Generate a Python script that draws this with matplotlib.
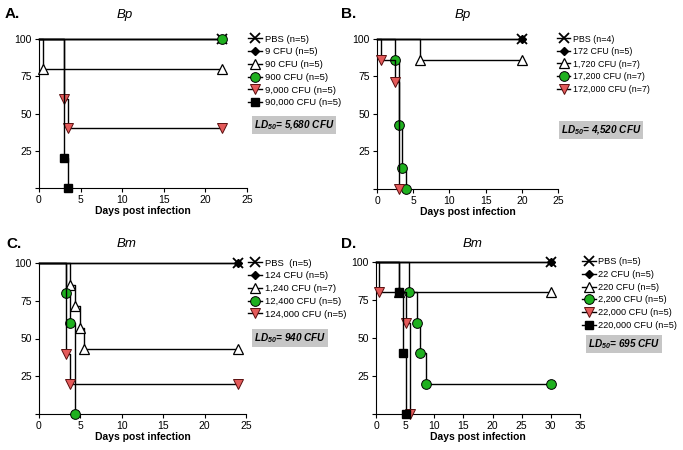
import numpy as np
import matplotlib
matplotlib.use('Agg')
import matplotlib.pyplot as plt
from matplotlib.lines import Line2D

plt.rcParams['font.family'] = ['Liberation Sans', 'DejaVu Sans']
plt.rcParams['mathtext.fontset'] = 'custom'
plt.rcParams['mathtext.it'] = 'Liberation Sans:italic:bold'
plt.rcParams['mathtext.rm'] = 'Liberation Sans:italic:bold'

# ---- data (days of death events, % survival after each event, last day) ----
A_labels = ['PBS (n=5)', '9 CFU (n=5)', '90 CFU (n=5)', '900 CFU (n=5)',
            '9,000 CFU (n=5)', '90,000 CFU (n=5)']
A_days = [[], [], [0.5], [], [3.0, 3.5], [3.0, 3.5]]
A_surv = [[], [], [80], [], [60, 40], [20, 0]]
A_end = 22

B_labels = ['PBS (n=4)', '172 CFU (n=5)', '1,720 CFU (n=7)', '17,200 CFU (n=7)',
            '172,000 CFU (n=7)']
B_days = [[], [], [6.0], [2.5, 3.0, 3.5, 4.0], [0.5, 2.5, 3.0]]
B_surv = [[], [], [85.7], [85.7, 42.9, 14.3, 0], [85.7, 71.4, 0]]
B_end = 20

C_labels = ['PBS  (n=5)', '124 CFU (n=5)', '1,240 CFU (n=7)', '12,400 CFU (n=5)',
            '124,000 CFU (n=5)']
C_days = [[], [], [3.8, 4.4, 4.9, 5.4], [3.3, 3.8, 4.4], [3.3, 3.8]]
C_surv = [[], [], [85.7, 71.4, 57.1, 42.9], [80, 60, 0], [40, 20]]
C_end = 24

D_labels = ['PBS (n=5)', '22 CFU (n=5)', '220 CFU (n=5)', '2,200 CFU (n=5)',
            '22,000 CFU (n=5)', '220,000 CFU (n=5)']
D_days = [[], [], [4.0], [5.7, 7.1, 7.6, 8.6], [0.6, 5.1, 5.8], [4.0, 4.6, 5.1]]
D_surv = [[], [], [80], [80, 60, 40, 20], [80, 60, 0], [80, 40, 0]]
D_end = 30

LD50 = ['5,680', '4,520', '940', '695']

# ---- styles ----
GREEN = '#1fb01f'
RED = '#e45a5a'
STY = {
    'pbs': dict(marker='x', mec='k', markersize=7, mew=1.3),
    'dia': dict(marker='D', mfc='k', mec='k', markersize=4.5),
    'tri': dict(marker='^', mfc='white', mec='k', markersize=7.5, mew=0.9),
    'cir': dict(marker='o', mfc=GREEN, mec='k', markersize=7, mew=0.7),
    'vtri': dict(marker='v', mfc=RED, mec='#5a1010', markersize=7.5, mew=0.7),
    'sq': dict(marker='s', mfc='k', mec='k', markersize=6),
}
order6 = ['pbs', 'dia', 'tri', 'cir', 'vtri', 'sq']
order5 = ['pbs', 'dia', 'tri', 'cir', 'vtri']


def draw_panel(ax, days, surv, end, styles, xmax):
    for k, (d, s, st) in enumerate(zip(days, surv, styles)):
        x = [0] + d
        y = [100] + s
        mx, my = list(d), list(s)
        last = y[-1]
        if last > 0:
            x.append(end)
            y.append(last)
            mx.append(end)
            my.append(last)
        ax.step(x, y, where='post', color='k', lw=1.0, clip_on=False, zorder=3 + k)
        ax.plot(mx, my, linestyle='none', clip_on=False, zorder=3 + k, **STY[st])
    ax.set_xlim(0, xmax)
    ax.set_ylim(0, 100)
    ax.set_xticks(np.arange(0, xmax + 1, 5))
    ax.set_yticks([0, 25, 50, 75, 100])
    ax.set_yticklabels(['', '25', '50', '75', '100'])
    ax.tick_params(direction='out', length=3, width=0.8, labelsize=7.5, pad=2)
    for sp in ['top', 'right']:
        ax.spines[sp].set_visible(False)
    for sp in ['left', 'bottom']:
        ax.spines[sp].set_linewidth(0.8)
    ax.set_xlabel('Days post infection', fontsize=7.5, fontweight='bold', labelpad=1)


def add_legend(fig, labels, styles, x, y, fs):
    handles = [Line2D([], [], color='k', lw=1.0, **STY[s]) for s in styles]
    fig.legend(handles, labels, loc='upper left', bbox_to_anchor=(x / 683, 1 - y / 450),
               bbox_transform=fig.transFigure, frameon=False, fontsize=fs,
               handlelength=1.5, handletextpad=0.3, labelspacing=0.4,
               borderpad=0, borderaxespad=0, markerscale=1.0)


fig = plt.figure(figsize=(6.83, 4.5), dpi=100)

# axes rectangles from pixel edges (left, right, top, bottom)
def px_axes(l, r, t, b):
    return fig.add_axes([l / 683, 1 - b / 450, (r - l) / 683, (b - t) / 450])

axA = px_axes(39, 247, 39, 188)
axB = px_axes(377, 558, 39, 189)
axC = px_axes(39, 246, 263, 414)
axD = px_axes(376, 580, 262, 414)

draw_panel(axA, A_days, A_surv, A_end, order6, 25)
draw_panel(axB, B_days, B_surv, B_end, order5, 25)
draw_panel(axC, C_days, C_surv, C_end, order5, 25)
draw_panel(axD, D_days, D_surv, D_end, order6, 35)

add_legend(fig, A_labels, order6, 248, 34.5, 6.8)
add_legend(fig, B_labels, order5, 557, 34.5, 6.4)
add_legend(fig, C_labels, order5, 248, 258.5, 6.8)
add_legend(fig, D_labels, order6, 582, 257.5, 6.6)

# panel letters and titles
for lab, x, y in [('A.', 5, 14), ('B.', 341, 14), ('C.', 6, 244), ('D.', 341, 244)]:
    fig.text(x / 683, 1 - y / 450, lab, fontsize=11, fontweight='bold', va='center')
for t, x, y in [('Bp', 125, 15), ('Bp', 463, 15), ('Bm', 127, 244), ('Bm', 473, 244)]:
    fig.text(x / 683, 1 - y / 450, t, fontsize=9.5, style='italic', ha='center', va='center')

# LD50 boxes
for v, x, y in zip(LD50, [294, 601, 290, 624], [125, 130, 338, 344]):
    fig.text(x / 683, 1 - y / 450, r'$LD_{50}$= ' + v + ' CFU', fontsize=7.2,
             fontweight='bold', style='italic', ha='center', va='center',
             bbox=dict(facecolor='#c6c6c6', edgecolor='none', pad=1.6))

fig.savefig('out.png', dpi=100)
